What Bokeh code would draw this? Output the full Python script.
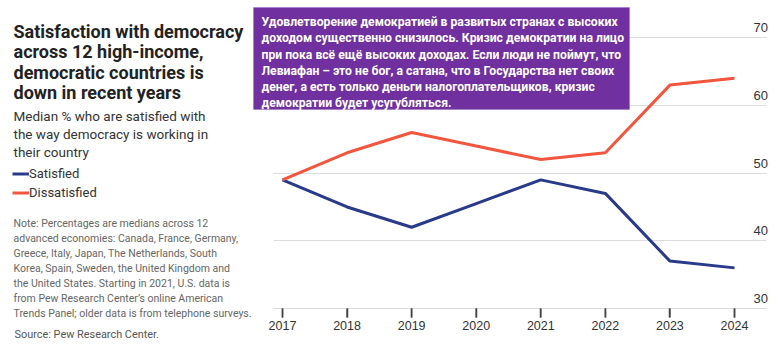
from bokeh.plotting import figure
from bokeh.models import (Range1d, LinearAxis, FixedTicker, Label, BoxAnnotation,
                          Legend, LegendItem, ColumnDataSource)
from bokeh.embed import file_html
from bokeh.resources import INLINE

# ---------------- data ----------------
years = [2017, 2018, 2019, 2020, 2021, 2022, 2023, 2024]
satisfied = [49, 45, 42, 45.5, 49, 47, 37, 36]
dissatisfied = [49, 53, 56, 54, 52, 53, 63, 64]
y_ticks = [30, 40, 50, 60, 70]

title_lines = ["Satisfaction with democracy", "across 12 high-income,",
               "democratic countries is", "down in recent years"]
subtitle_lines = ["Median % who are satisfied with", "the way democracy is working in",
                  "their country"]
note_lines = ["Note: Percentages are medians across 12",
              "advanced economies: Canada, France, Germany,",
              "Greece, Italy, Japan, The Netherlands, South",
              "Korea, Spain, Sweden, the United Kingdom and",
              "the United States. Starting in 2021, U.S. data is",
              "from Pew Research Center\u2019s online American",
              "Trends Panel; older data is from telephone surveys."]
source_text = "Source: Pew Research Center."
box_lines = ["Удовлетворение демократией в развитых странах с высоких",
             "доходом существенно снизилось. Кризис демократии на лицо",
             "при пока всё ещё высоких доходах. Если люди не поймут, что",
             "Левиафан – это не бог, а сатана, что в Государства нет своих",
             "денег, а есть только деньги налогоплательщиков, кризис",
             "демократии будет усугубляться."]

BLUE = "#293A8A"
RED = "#F2563E"
PURPLE = "#7030A0"
TICK = "#444444"

W, H = 780, 344
PX_PER_YEAR = 64.571
X0_PX = 282                   # page x of first year
PX_PER_UNIT = 6.77            # page px per percentage point
Y30_PX = 308                  # page y of the 30 gridline
TICK_LEN = 9                  # px

x_start = years[0] - X0_PX / PX_PER_YEAR
x_end = years[0] + (W - X0_PX) / PX_PER_YEAR
y_start = 30 - (H - Y30_PX) / PX_PER_UNIT
y_end = 30 + Y30_PX / PX_PER_UNIT
chart_left = years[0] - 9 / PX_PER_YEAR
chart_right = years[-1] + 32 / PX_PER_YEAR

p = figure(width=W, height=H, output_backend="svg", toolbar_location=None,
           x_range=Range1d(x_start, x_end), y_range=Range1d(y_start, y_end),
           y_axis_location=None,
           min_border_left=0, min_border_right=0,
           min_border_top=0, min_border_bottom=0)
p.outline_line_color = None
p.background_fill_color = "white"
p.border_fill_color = "white"

# horizontal gridlines only over the chart area
p.xgrid.visible = False
p.ygrid.ticker = FixedTicker(ticks=y_ticks)
p.ygrid.grid_line_color = "#DCDCDC"
p.ygrid.grid_line_width = 1
p.ygrid.cross_bounds = (chart_left, chart_right)

# x axis drawn at the 30 line
xa = p.xaxis[0]
xa.fixed_location = y_ticks[0]
xa.ticker = FixedTicker(ticks=years)
xa.bounds = (chart_left, chart_right)
xa.axis_line_color = "#DCDCDC"
xa.axis_line_width = 1
xa.major_tick_out = TICK_LEN
xa.major_tick_in = 0
xa.major_tick_line_color = TICK
xa.major_tick_line_width = 1.5
xa.minor_tick_line_color = None
xa.major_label_text_font = "Liberation Sans"
xa.major_label_text_font_size = "12.5px"
xa.major_label_text_color = "#333333"
xa.major_label_standoff = 3

# tick marks at each year, hanging below the 30 line (thin filled bars)
p.vbar(x=years, bottom=y_ticks[0] - TICK_LEN / PX_PER_UNIT, top=y_ticks[0],
       width=1.5 / PX_PER_YEAR, fill_color=TICK, line_color=None, level="overlay")

# y labels on the right, sitting above their gridlines
off = 10 / PX_PER_UNIT
p.extra_y_ranges = {"lab": Range1d(y_start - off, y_end - off)}
ya = LinearAxis(y_range_name="lab", ticker=FixedTicker(ticks=y_ticks))
ya.axis_line_color = None
ya.major_tick_line_color = None
ya.minor_tick_line_color = None
ya.major_tick_in = 0
ya.major_tick_out = 0
ya.major_label_standoff = 753 - W
ya.major_label_text_font = "Liberation Sans"
ya.major_label_text_font_size = "13px"
ya.major_label_text_color = "#333333"
p.add_layout(ya, "right")

src = ColumnDataSource(dict(x=years, s=satisfied, d=dissatisfied))
r_s = p.line("x", "s", source=src, line_color=BLUE, line_width=3)
r_d = p.line("x", "d", source=src, line_color=RED, line_width=3)

# screen units are relative to the frame (which fills the canvas), y up from bottom
def sx(px):
    return px

def sy(py):
    return H - py

def add_lines(lines, x, y0, dy, size, color, bold=False, level="annotation"):
    for i, t in enumerate(lines):
        p.add_layout(Label(x=sx(x), y=sy(y0 + dy * i), x_units="screen", y_units="screen",
                           text=t, text_font="Roboto",
                           text_font_style="bold" if bold else "normal",
                           text_font_size=size, text_color=color,
                           text_align="left", text_baseline="alphabetic", level=level))

# purple text box
box = BoxAnnotation(left=sx(253), right=sx(629), top=sy(7), bottom=sy(109),
                    left_units="screen", right_units="screen",
                    top_units="screen", bottom_units="screen",
                    fill_color=PURPLE, fill_alpha=1.0, line_color="#8A55B5",
                    line_width=1, level="overlay")
p.add_layout(box)
add_lines(box_lines, 261, 21.7, 16.2, "12.2px", "white", bold=True, level="overlay")

# left panel texts
add_lines(title_lines, 13, 31, 20.4, "18px", "#222222", bold=True)
add_lines(subtitle_lines, 13, 115.7, 17.7, "13.5px", "#333333")
add_lines(note_lines, 13, 222.7, 15, "10.5px", "#666666")
add_lines([source_text], 14, 334, 15, "10.9px", "#555555")

# legend
legend = Legend(items=[LegendItem(label="Satisfied", renderers=[r_s]),
                       LegendItem(label="Dissatisfied", renderers=[r_d])],
                location=(sx(12), sy(200.5)), orientation="vertical",
                padding=0, margin=0, spacing=2, glyph_width=17, glyph_height=17,
                label_height=17, label_standoff=0,
                border_line_color=None, background_fill_alpha=0,
                label_text_font="Roboto", label_text_font_size="13px",
                label_text_color="#333333")
p.add_layout(legend, "center")

open("out.html", "w").write(file_html(p, INLINE))
